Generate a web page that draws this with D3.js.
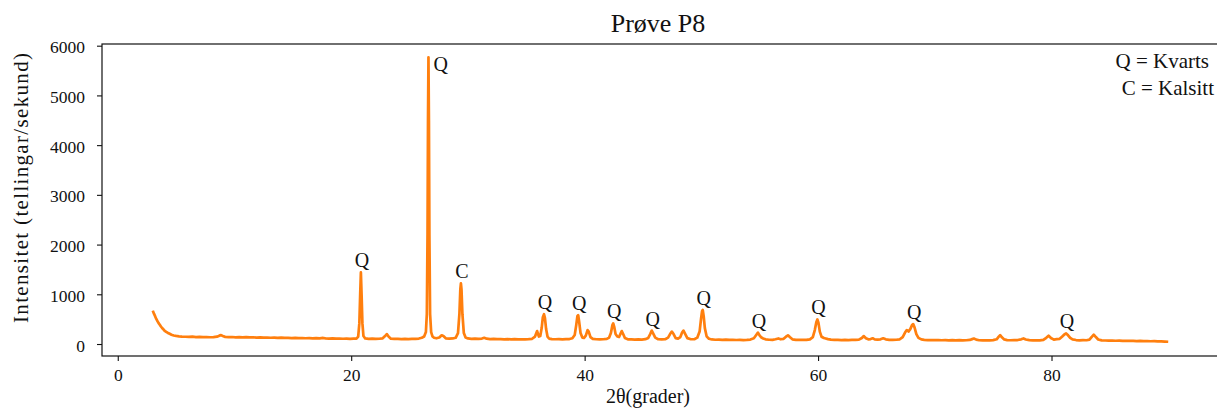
<!DOCTYPE html>
<html>
<head>
<meta charset="utf-8">
<script src="https://cdn.jsdelivr.net/npm/d3@7"></script>
<style>
  body { margin: 0; background: #fff; }
  #xrdChart { width: 1217px; height: 412px; }
  .tick text { font-family: "Liberation Serif", serif; font-size: 17.5px; fill: #111; }
  .axis-label { font-family: "Liberation Serif", serif; fill: #111; }
</style>
</head>
<body>
<div id="xrdChart"></div>
<script>
// measured scan, [2theta, counts] pairs, split by range
const scan03to20 = [
  [3.0,672],[3.1,610],[3.2,560],[3.3,505],[3.4,462],[3.5,420],[3.6,388],[3.7,352],[3.8,322],[3.9,298],
  [4.0,270],[4.15,245],[4.3,222],[4.45,205],[4.6,188],[4.8,172],[5.0,163],[5.25,155],[5.5,150],[5.8,146],
  [6.1,143],[6.4,147],[6.7,140],[7.0,142],[7.3,137],[7.6,141],[7.9,136],[8.2,140],[8.5,148],[8.7,168],
  [8.85,178],[9.0,160],[9.2,144],[9.5,138],[9.8,141],[10.1,135],[10.4,138],[10.7,133],[11.0,137],[11.3,132],
  [11.6,135],[11.9,130],[12.2,134],[12.5,129],[12.8,131],[13.1,126],[13.4,130],[13.7,124],[14.0,127],[14.3,122],
  [14.6,125],[14.9,120],[15.2,123],[15.5,118],[15.8,121],[16.1,116],[16.4,119],[16.7,114],[17.0,117],[17.3,112],
  [17.6,122],[17.8,113],[18.1,110],[18.4,113],[18.7,108],[19.0,111],[19.3,106],[19.6,109],[19.9,104],[20.2,107]
];
const scan20to35 = [
  [20.45,110],[20.6,150],[20.7,420],[20.77,1000],[20.83,1440],[20.89,1000],[20.96,420],[21.05,160],[21.2,112],[21.5,105],
  [21.8,108],[22.1,102],[22.4,106],[22.7,115],[22.9,160],[23.05,200],[23.2,150],[23.4,108],[23.7,102],[24.0,105],
  [24.3,100],[24.6,103],[24.9,99],[25.2,102],[25.5,104],[25.8,110],[26.05,125],[26.25,150],[26.4,240],[26.48,600],
  [26.54,2200],[26.58,4500],[26.62,5766],[26.66,4500],[26.7,2200],[26.76,600],[26.85,240],[26.97,150],[27.1,125],[27.3,115],
  [27.55,130],[27.75,175],[27.9,160],[28.1,115],[28.4,108],[28.7,112],[28.95,125],[29.15,220],[29.27,600],[29.35,1100],
  [29.4,1220],[29.45,1100],[29.53,600],[29.65,220],[29.8,130],[30.0,112],[30.3,105],[30.6,108],[30.9,102],[31.2,110],
  [31.4,125],[31.6,108],[31.9,100],[32.2,103],[32.5,97],[32.8,100],[33.1,95],[33.4,98],[33.7,94],[34.0,97],
  [34.3,93],[34.6,96],[34.9,95]
];
const scan35to51 = [
  [35.2,98],[35.5,105],[35.75,150],[35.93,260],[36.08,150],[36.2,160],[36.32,320],[36.42,540],[36.52,600],[36.6,520],
  [36.7,300],[36.82,150],[36.95,110],[37.2,100],[37.5,96],[37.8,99],[38.1,95],[38.4,98],[38.7,100],[38.95,115],
  [39.15,180],[39.28,380],[39.38,560],[39.45,580],[39.53,450],[39.65,220],[39.8,130],[39.95,125],[40.1,170],[40.25,280],
  [40.35,250],[40.5,140],[40.7,105],[41.0,96],[41.3,93],[41.6,96],[41.9,103],[42.1,130],[42.25,220],[42.38,380],
  [42.45,415],[42.53,350],[42.65,200],[42.8,150],[42.95,140],[43.08,210],[43.18,260],[43.3,200],[43.45,120],[43.7,95],
  [44.0,92],[44.3,90],[44.6,93],[44.9,90],[45.2,97],[45.45,122],[45.62,200],[45.75,270],[45.88,210],[46.05,128],
  [46.3,97],[46.6,92],[46.9,97],[47.15,128],[47.32,200],[47.47,250],[47.62,200],[47.8,118],[48.0,108],[48.2,140],
  [48.35,230],[48.47,270],[48.6,210],[48.8,118],[49.1,96],[49.4,97],[49.65,128],[49.85,250],[49.98,520],[50.06,660],
  [50.12,685],[50.2,560],[50.3,320],[50.45,155],[50.65,105]
];
const scan51to70 = [
  [50.9,92],[51.2,86],[51.5,89],[51.8,84],[52.1,87],[52.4,82],[52.7,85],[53.0,81],[53.3,84],[53.6,80],
  [53.9,84],[54.2,90],[54.5,115],[54.7,180],[54.85,230],[55.0,170],[55.15,130],[55.3,112],[55.5,94],[55.8,86],
  [56.1,84],[56.35,95],[56.6,112],[56.8,95],[57.05,105],[57.25,148],[57.42,175],[57.6,135],[57.8,94],[58.1,84],
  [58.4,82],[58.7,85],[59.0,84],[59.3,95],[59.55,138],[59.72,280],[59.85,440],[59.94,495],[60.03,430],[60.15,250],
  [60.3,145],[60.5,120],[60.65,112],[60.85,98],[61.1,88],[61.4,82],[61.7,85],[62.0,80],[62.3,83],[62.6,79],
  [62.9,82],[63.2,84],[63.5,88],[63.75,120],[63.92,160],[64.1,115],[64.3,94],[64.5,100],[64.68,115],[64.85,94],
  [65.1,88],[65.35,95],[65.58,115],[65.8,94],[66.1,85],[66.4,82],[66.7,86],[67.0,95],[67.25,140],[67.45,230],
  [67.6,280],[67.75,250],[67.9,300],[68.05,380],[68.15,400],[68.27,330],[68.42,200],[68.6,125],[68.85,92],[69.1,84],
  [69.4,79],[69.7,81]
];
const scan70to90 = [
  [70.0,77],[70.3,80],[70.6,76],[70.9,79],[71.2,75],[71.5,78],[71.8,74],[72.1,77],[72.4,73],[72.7,76],
  [73.0,82],[73.2,98],[73.35,110],[73.55,88],[73.8,76],[74.1,73],[74.4,76],[74.7,74],[75.0,78],[75.3,95],
  [75.48,148],[75.6,178],[75.75,135],[75.95,92],[76.2,79],[76.5,76],[76.8,81],[77.1,80],[77.4,94],[77.6,112],
  [77.8,90],[78.1,77],[78.4,73],[78.7,76],[79.0,74],[79.3,82],[79.55,125],[79.75,168],[79.95,120],[80.2,88],
  [80.45,98],[80.7,104],[80.9,145],[81.1,192],[81.25,213],[81.42,175],[81.6,122],[81.8,92],[82.1,80],[82.4,75],
  [82.7,78],[83.0,76],[83.25,88],[83.45,145],[83.62,188],[83.8,140],[84.0,92],[84.3,74],[84.6,71],[84.9,68],
  [85.2,70],[85.5,66],[85.8,68],[86.1,64],[86.4,66],[86.7,62],[87.0,64],[87.3,60],[87.6,62],[87.9,58],
  [88.2,60],[88.5,56],[88.8,57],[89.1,53],[89.4,54],[89.7,50],[90.0,46]
];
const scan = [].concat(scan03to20, scan20to35, scan35to51, scan51to70, scan70to90);

// phase labels on peaks: [2theta, peak counts, phase]
const peakTheta = [20.83, 26.62, 29.4, 36.52, 39.45, 42.45, 45.75, 50.12, 54.85, 59.94, 68.15, 81.25];
const peakCounts = [1440, 5766, 1220, 600, 580, 415, 270, 685, 230, 495, 400, 213];
const peakPhase = ['Q', 'Q', 'C', 'Q', 'Q', 'Q', 'Q', 'Q', 'Q', 'Q', 'Q', 'Q'];
const legendLines = ['Q = Kvarts', 'C = Kalsitt'];

const xTicks = [0, 20, 40, 60, 80];
const yTicks = [0, 1000, 2000, 3000, 4000, 5000, 6000];

// chart static params
const chartTitle = 'Prøve P8';
const xLabel = '2θ(grader)';
const yLabel = 'Intensitet (tellingar/sekund)';
const lineColor = '#ff7f0e';
const totalWidth = 1217, totalHeight = 412;

const margin = {top: 44, right: -2, bottom: 56, left: 102},
    width = totalWidth - margin.left - margin.right,
    height = totalHeight - margin.top - margin.bottom;

// scales (matplotlib style 5% margins round the data)
const xScale = d3.scaleLinear().domain([-1.35, 94.35]).range([0, width]);
const yScale = d3.scaleLinear().domain([-241, 6034]).range([height, 0]);

const svg = d3.select('#xrdChart')
  .append('svg')
    .attr('width', totalWidth)
    .attr('height', totalHeight)
  .append('g')
    .attr('transform', `translate(${margin.left},${margin.top})`);

// x axis
const xAxis = svg.append('g')
  .attr('transform', `translate(0,${height})`)
  .call(d3.axisBottom(xScale).tickValues(xTicks).tickSize(5).tickPadding(8).tickFormat(d3.format('d')));
xAxis.select('.domain').remove();
xAxis.selectAll('.tick line').attr('stroke', '#111').attr('stroke-width', 1.1);

// y axis
const yAxis = svg.append('g')
  .call(d3.axisLeft(yScale).tickValues(yTicks).tickSize(5).tickPadding(12).tickFormat(d3.format('d')));
yAxis.select('.domain').remove();
yAxis.selectAll('.tick line').attr('stroke', '#111').attr('stroke-width', 1.1);
yAxis.selectAll('.tick text').attr('dy', '0.4em');

// the scan line
const line = d3.line()
  .x(d => xScale(d[0]))
  .y(d => yScale(d[1]));

svg.append('path')
  .datum(scan)
  .attr('fill', 'none')
  .attr('stroke', lineColor)
  .attr('stroke-width', 2.7)
  .attr('stroke-linejoin', 'round')
  .attr('d', line);

// peak labels, main quartz peak gets its label to the right
svg.selectAll('.peak-label')
  .data(peakTheta)
  .enter().append('text')
    .attr('class', 'axis-label peak-label')
    .attr('text-anchor', (d, i) => i === 1 ? 'start' : 'middle')
    .attr('x', (d, i) => xScale(d) + (i === 1 ? 5 : 1))
    .attr('y', (d, i) => yScale(peakCounts[i]) + (i === 1 ? 14 : -5))
    .style('font-size', '20px')
    .text((d, i) => peakPhase[i]);

// spines
svg.append('rect')
  .attr('width', width)
  .attr('height', height)
  .attr('fill', 'none')
  .attr('stroke', '#111')
  .attr('stroke-width', 1.2);

// legend text top right
svg.selectAll('.legend-line')
  .data(legendLines)
  .enter().append('text')
    .attr('class', 'axis-label legend-line')
    .attr('text-anchor', 'end')
    .attr('x', (d, i) => 1209 - margin.left + i * 5)
    .attr('y', (d, i) => 24 + i * 27)
    .style('font-size', '21px')
    .text(d => d);

// title
svg.append('text')
  .attr('class', 'axis-label')
  .attr('text-anchor', 'middle')
  .attr('x', 658 - margin.left)
  .attr('y', -12)
  .style('font-size', '26px')
  .text(chartTitle);

// label bottom
svg.append('text')
  .attr('class', 'axis-label')
  .attr('text-anchor', 'middle')
  .attr('transform', `translate(${648 - margin.left},${height + 47})`)
  .style('font-size', '20px')
  .text(xLabel);

// label left
svg.append('text')
  .attr('class', 'axis-label')
  .attr('text-anchor', 'middle')
  .attr('transform', `translate(${28 - margin.left},${188 - margin.top}) rotate(-90)`)
  .attr('textLength', 270)
  .attr('lengthAdjust', 'spacing')
  .style('font-size', '21px')
  .text(yLabel);
</script>
</body>
</html>
